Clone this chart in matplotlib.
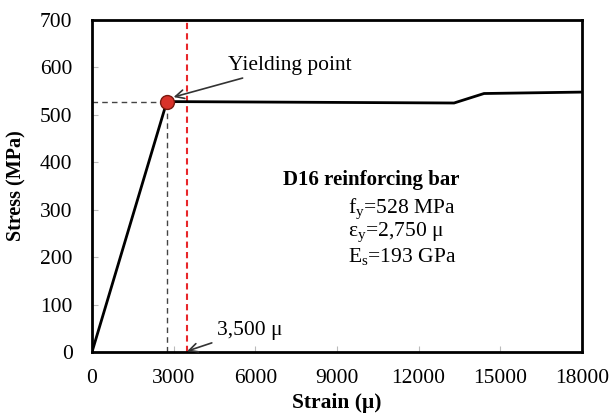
import numpy as np
import matplotlib.pyplot as plt

plt.rcParams['font.family'] = ['Liberation Serif', 'DejaVu Serif']

# stress-strain curve of the D16 bar
strain = [0, 2750, 13300, 14400, 18000]
stress = [0, 528, 525, 545, 548]

fy = 528
ey = 2750
e_lim = 3500

xticks = [0, 3000, 6000, 9000, 12000, 15000, 18000]
yticks = [0, 100, 200, 300, 400, 500, 600, 700]

fig = plt.figure(figsize=(6.12, 4.17), dpi=100)
ax = fig.add_axes([92/612, 1-352/417, 490/612, 332/417])

ax.plot(strain, stress, color='black', lw=2, zorder=3)

# yield guide lines
ax.plot([0, ey], [fy, fy], color='#444444', lw=1, ls=(0, (4, 3)))
ax.plot([ey, ey], [0, fy], color='#444444', lw=1, ls=(0, (4, 3)))
ax.axvline(e_lim, color='#e8262a', lw=1.5, ls=(0, (3, 2)), zorder=2)

ax.plot([ey], [fy], 'o', ms=10, mfc='#d9322a', mec='#7a1a10', mew=1, zorder=4)

ax.annotate('Yielding point', xy=(ey + 150, fy + 8), xytext=(5000, 605),
            fontsize=15.5, va='center',
            arrowprops=dict(arrowstyle='->', color='#333333', lw=1.2,
                            shrinkA=2, shrinkB=2))
ax.annotate('3,500 \u03bc', xy=(e_lim, 2), xytext=(4600, 46),
            fontsize=15.5, va='center',
            arrowprops=dict(arrowstyle='->', color='#333333', lw=1.2,
                            shrinkA=2, shrinkB=0))

ax.text(7000, 362, 'D16 reinforcing bar', fontsize=15, fontweight='bold', va='center')
ax.text(9420, 300, 'f$_\\mathregular{y}$=528 MPa', fontsize=15.5, va='center')
ax.text(9420, 250, '\u03b5$_\\mathregular{y}$=2,750 \u03bc', fontsize=15.5, va='center')
ax.text(9420, 200, 'E$_\\mathregular{s}$=193 GPa', fontsize=15.5, va='center')

ax.set_xlim(0, 18000)
ax.set_ylim(0, 700)
ax.set_xticks(xticks)
ax.set_yticks(yticks)
ax.tick_params(direction='in', length=4, color='#bbbbbb', labelsize=15.5)
ax.tick_params(axis='x', pad=12)
ax.tick_params(axis='y', pad=14)
for s in ax.spines.values():
    s.set_linewidth(2)

ax.set_xlabel('Strain (\u03bc)', fontsize=15.5, fontweight='bold', labelpad=4)
ax.set_ylabel('Stress (MPa)', fontsize=14.5, fontweight='bold', labelpad=10)

fig.savefig('out.png', dpi=100)
